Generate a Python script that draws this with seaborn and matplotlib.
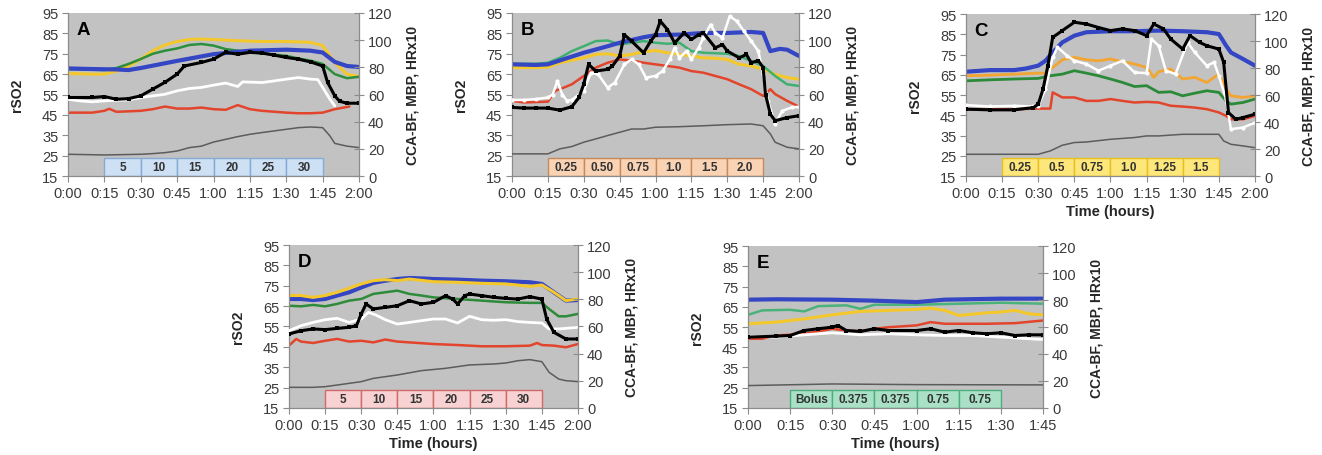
import pandas as pd
import seaborn as sns
import matplotlib.pyplot as plt

# values as (minute, value) pairs
# left axis (rSO2): blue, green, yellow/orange, red
# right axis (CCA-BF, MBP, HRx10): black, white, gray

A_blue = [(0, 67.8), (10, 67.5), (20, 67.3), (25, 67), (30, 68), (45, 71.5), (60, 74.8), (75, 76.5),
          (90, 77), (100, 76.5), (105, 75.6), (110, 71), (115, 69), (120, 68.5)]
A_yellow = [(0, 65.3), (10, 65), (15, 65), (20, 66.5), (25, 69), (30, 72.4), (35, 76.5), (40, 79.3),
            (45, 81), (50, 82), (55, 82.2), (60, 82), (70, 81.4), (80, 81), (90, 81), (100, 80.6),
            (105, 79), (110, 70.7), (115, 65), (120, 63.8)]
A_green = [(0, 67.5), (15, 67), (20, 68), (25, 70), (30, 72.4), (35, 75), (40, 76.5), (45, 77.6),
           (50, 79.3), (55, 79.8), (60, 79), (65, 77.3), (70, 76.5), (75, 75.7), (80, 75.2), (90, 74),
           (95, 72.7), (100, 71.6), (105, 70), (110, 65), (115, 63), (120, 63.7)]
A_red = [(0, 46.1), (10, 46.1), (15, 47), (17, 48), (20, 46.5), (30, 47), (35, 47.8), (40, 49.1),
         (45, 48.1), (50, 48.1), (55, 48.6), (60, 47.8), (65, 47.5), (70, 49.8), (75, 47.8), (80, 47),
         (90, 46.1), (95, 45.8), (100, 45.8), (105, 46.1), (110, 47.8), (116, 49.1)]
A_black = [(0, 57.8), (10, 57.8), (15, 58.5), (20, 56.5), (25, 57), (30, 59), (35, 64), (40, 69),
           (45, 75), (48, 81), (55, 83.6), (60, 86), (65, 91), (70, 89.7), (75, 91), (80, 90.5),
           (85, 89), (90, 87.3), (95, 86), (100, 84), (105, 81), (107, 69), (110, 59), (112, 55),
           (115, 53.6), (120, 53.6)]
A_white = [(0, 56.5), (5, 55.3), (10, 54.6), (15, 55.3), (20, 55.8), (25, 56), (30, 57.8), (35, 59),
           (40, 60.2), (45, 62.7), (50, 64.4), (55, 65.2), (60, 66.9), (65, 68.4), (70, 65.9),
           (72, 69.3), (80, 68.8), (85, 70), (90, 71.3), (95, 72.5), (100, 71.3), (103, 71),
           (105, 65.2), (108, 56.5), (110, 51.6)]
A_gray = [(0, 16), (15, 15.5), (30, 16), (35, 16.5), (40, 17.2), (45, 18.4), (50, 20.9), (55, 22),
          (60, 25), (65, 27), (70, 29), (75, 30.7), (80, 32), (85, 33.2), (90, 34.4), (95, 35.6),
          (100, 36.1), (105, 35.6), (108, 29.5), (110, 24), (115, 22), (120, 20.9)]
A_doses = ['5', '10', '15', '20', '25', '30']

B_blue = [(0, 69.8), (10, 69.5), (15, 69.8), (20, 71.7), (30, 75.5), (40, 78.7), (45, 80.4), (55, 83.1),
          (60, 84.1), (70, 84.4), (80, 85.2), (90, 85.2), (100, 85.7), (105, 85.2), (108, 76.3),
          (112, 77.4), (115, 77), (120, 73.9)]
B_green = [(0, 70.1), (10, 70.1), (15, 70.6), (20, 73), (25, 76.3), (30, 78.7), (35, 81.2), (40, 81.5),
           (45, 79.6), (50, 80.4), (55, 81.2), (60, 80.4), (65, 79.9), (70, 80.4), (75, 76.3),
           (80, 75.5), (90, 75), (95, 73.9), (100, 71.4), (105, 69), (110, 64.1), (115, 60), (120, 59.2)]
B_yellow = [(0, 68.2), (10, 68.2), (15, 68.4), (20, 70.6), (30, 73), (35, 74.7), (40, 75), (45, 73.9),
            (50, 74.7), (55, 76), (60, 76.6), (65, 75.5), (70, 74.7), (75, 73.9), (80, 73), (85, 72.8),
            (90, 72.2), (95, 69.8), (100, 69), (105, 67.4), (110, 64.9), (115, 63.3), (120, 62.5)]
B_red = [(0, 51.9), (5, 51.1), (15, 51.5), (18, 56.8), (20, 57.6), (25, 60), (30, 64.1), (35, 68.2),
         (40, 70.6), (45, 72.2), (50, 71.7), (55, 70.6), (60, 69.8), (65, 69), (70, 68.2), (75, 66.5),
         (80, 65.7), (85, 64.1), (90, 62.5), (95, 60), (100, 57.6), (105, 54.3), (108, 57.6),
         (110, 55.2), (115, 51.9), (120, 49)]
B_black = [(0, 50.5), (5, 50), (10, 50), (15, 50), (20, 48.5), (25, 51), (28, 57.8), (30, 67.6),
           (32, 82.2), (35, 77.3), (40, 78.5), (42, 81), (45, 88.3), (47, 104), (50, 99.3), (55, 90.7),
           (58, 99.3), (60, 104), (62, 114), (65, 107.8), (68, 98), (72, 105.4), (75, 100.5), (78, 104),
           (80, 105.4), (85, 94.4), (88, 96.8), (90, 92), (95, 87), (98, 89.5), (100, 83.4), (103, 85),
           (105, 79.8), (106, 60), (108, 45.6), (110, 40.7), (115, 43), (120, 44.4)]
B_white = [(0, 56), (5, 56), (10, 56.6), (15, 57.8), (17, 60), (19, 70), (21, 60), (23, 55.4),
           (25, 56), (30, 62.7), (33, 76), (36, 74.9), (40, 65), (43, 68.8), (47, 82.2), (50, 85.9),
           (53, 82.2), (56, 72.4), (60, 73.7), (63, 77.3), (66, 85.9), (68, 94.4), (70, 87), (73, 92),
           (75, 85.9), (78, 94.4), (80, 101.7), (83, 111.5), (85, 105.4), (88, 101.7), (91, 117.6),
           (94, 114), (97, 106.6), (100, 99.3), (103, 92), (105, 74.9), (107, 55.4), (110, 38.3),
           (113, 48), (117, 50.5), (120, 51)]
B_gray = [(0, 16.3), (15, 16.3), (20, 20), (25, 21.7), (30, 24.9), (35, 27.3), (40, 29.8), (45, 32.2),
          (50, 34.6), (55, 34.6), (60, 35.9), (70, 36.3), (80, 37), (90, 37.8), (100, 38.3), (105, 37),
          (108, 31), (110, 24.9), (115, 21.2), (120, 20)]
B_doses = ['0.25', '0.50', '0.75', '1.0', '1.5', '2.0']

C_blue = [(0, 66.5), (10, 67.3), (20, 67.3), (25, 68.1), (30, 69.5), (33, 71.9), (36, 76), (40, 81),
          (45, 84.3), (50, 86), (60, 86.5), (70, 86.5), (80, 86.8), (90, 86.5), (100, 86), (105, 85.1),
          (108, 79.4), (110, 76), (115, 72.8), (120, 69.5)]
C_orange = [(0, 64.5), (10, 64.8), (20, 65.3), (30, 65.8), (33, 65.8), (36, 68.6), (40, 72.4),
            (45, 73.6), (50, 72.4), (55, 71.9), (60, 72.8), (65, 71.4), (70, 70.3), (75, 68.6),
            (78, 63.7), (80, 66.5), (85, 67.8), (90, 62.9), (95, 63.7), (100, 61.2), (105, 65.3),
            (108, 57.9), (110, 54.6), (115, 53.8), (120, 54.6)]
C_green = [(0, 62), (10, 62.5), (20, 62.9), (30, 63.2), (35, 64.5), (40, 65.3), (45, 67), (50, 65.8),
           (55, 64.5), (60, 62.9), (65, 61.2), (70, 59.2), (75, 59.6), (80, 56.3), (85, 56.6),
           (90, 54.6), (95, 55.9), (100, 57.1), (105, 56.3), (108, 52.1), (110, 50.5), (115, 51.3),
           (120, 53)]
C_red = [(0, 48), (10, 48), (20, 48), (30, 48.3), (35, 48.3), (36, 56.3), (40, 53.8), (45, 53.8),
         (50, 52.1), (55, 52.1), (60, 53), (65, 52.1), (70, 51.3), (75, 51.6), (80, 51.3), (85, 49.7),
         (90, 49.3), (95, 48.8), (100, 48), (105, 46.4), (108, 44.7), (110, 43), (115, 43), (120, 44.7)]
C_black = [(0, 49.5), (10, 49), (20, 49), (28, 50.7), (30, 53.2), (32, 64.4), (34, 81.7), (36, 102.7),
           (40, 107.7), (45, 113.9), (50, 112.6), (55, 110), (60, 107.7), (65, 109), (70, 107.7),
           (75, 104), (78, 112.6), (82, 109), (85, 101.5), (90, 94), (93, 104), (97, 99), (100, 96.5),
           (105, 94), (107, 84.2), (109, 47), (112, 42), (115, 43.3), (120, 45.8)]
C_white = [(0, 52.5), (10, 51.5), (20, 52), (28, 51.5), (30, 52), (33, 64.4), (36, 87.9), (38, 95.3),
           (42, 89.1), (45, 85.4), (50, 82.9), (55, 78), (60, 81.7), (65, 85.4), (70, 76.7), (75, 76.2),
           (77, 101.5), (80, 96.5), (83, 78), (87, 75.5), (92, 99), (95, 91.6), (100, 81.7), (103, 84.2),
           (105, 74.3), (108, 56.9), (110, 34.7), (115, 35.9), (120, 39.6)]
C_gray = [(0, 16.1), (30, 16.1), (35, 18.6), (40, 22.8), (45, 24.8), (50, 25.2), (60, 27.2), (70, 28.5),
          (75, 29.7), (80, 29.7), (90, 30.9), (100, 30.9), (105, 30.9), (107, 26), (110, 23.5),
          (115, 22.3), (120, 21)]
C_doses = ['0.25', '0.5', '0.75', '1.0', '1.25', '1.5']

D_blue = [(0, 68.5), (5, 68.5), (10, 68), (15, 68.5), (20, 70.2), (25, 71.8), (30, 74.2), (35, 76.4),
          (40, 77.5), (45, 78.3), (50, 78.8), (55, 78.6), (60, 78.3), (70, 78), (80, 77.5), (90, 77.2),
          (100, 76.7), (105, 75.9), (110, 71.8), (115, 67.7), (120, 68)]
D_yellow = [(0, 70.2), (5, 70.2), (10, 69.3), (15, 70.2), (20, 71.8), (25, 73.8), (30, 75.9), (35, 77.5),
            (40, 78), (45, 77.5), (50, 78.3), (60, 77), (70, 76.7), (80, 76.2), (90, 75.9), (100, 74.7),
            (105, 75.4), (110, 71.8), (115, 67.7), (120, 68.5)]
D_green = [(0, 65.2), (5, 64.9), (10, 65.6), (15, 64.9), (20, 66.1), (25, 67.7), (30, 68.5), (35, 71),
           (40, 71.8), (45, 72.6), (50, 71), (55, 70.2), (60, 69.3), (70, 68.5), (80, 67.7), (90, 66.9),
           (100, 66.6), (105, 66.6), (108, 63.6), (112, 60), (115, 60), (120, 61.2)]
D_red = [(0, 45.6), (3, 48.9), (5, 47.6), (10, 46.9), (15, 48), (20, 48.9), (25, 47.6), (30, 48),
         (35, 47.2), (40, 48.6), (45, 47.6), (50, 47.2), (60, 46.4), (70, 45.9), (80, 45.3), (90, 45.3),
         (100, 45.6), (103, 46.9), (105, 45.9), (110, 45.6), (115, 44.8), (120, 46.4)]
D_black = [(0, 54.5), (5, 56.9), (10, 58.2), (15, 57.7), (20, 58.6), (25, 59.4), (28, 60.6), (30, 69.2),
           (32, 76.6), (35, 72.9), (40, 74.1), (45, 75.3), (50, 79), (55, 76.6), (60, 77.8), (65, 82.7),
           (68, 80.2), (70, 76.6), (73, 82.7), (75, 83.9), (80, 82.7), (85, 81.5), (90, 80.7),
           (95, 80.2), (100, 82), (105, 80.2), (107, 65.5), (110, 55.7), (115, 50.8), (120, 50.8)]
D_white = [(0, 56.9), (5, 60.6), (10, 63), (15, 65), (20, 66), (25, 63), (30, 65.5), (33, 70.4),
           (36, 68.5), (40, 65), (45, 61.8), (50, 63), (55, 64.3), (60, 65.5), (65, 65.5), (70, 62.6),
           (75, 67.5), (80, 65), (85, 64.6), (90, 65), (95, 63.6), (100, 63), (105, 62.6), (108, 58.2),
           (112, 58.2), (120, 59.4)]
D_gray = [(0, 15.2), (10, 15.2), (15, 15.7), (20, 16.9), (30, 19.4), (35, 21.8), (45, 24.3), (55, 27.5),
          (65, 29.2), (75, 31.7), (85, 32.4), (90, 33.1), (95, 34.8), (100, 35.6), (105, 34.1),
          (108, 26.3), (112, 21.3), (115, 20.1), (120, 19.4)]
D_doses = ['5', '10', '15', '20', '25', '30']

E_blue = [(0, 68.5), (10, 68.7), (30, 68.5), (45, 68), (60, 67.3), (70, 68.5), (90, 69), (105, 69)]
E_green = [(0, 61), (5, 63.2), (15, 63.5), (20, 62.7), (25, 65.3), (35, 65.7), (40, 64), (45, 66),
           (60, 66), (75, 66.5), (90, 67), (105, 66.5)]
E_yellow = [(0, 56.6), (10, 57.4), (20, 59), (30, 61), (40, 62.7), (50, 63.2), (60, 63.7), (65, 64.3),
            (70, 63.2), (75, 60.7), (85, 62), (90, 62.4), (95, 63.2), (100, 61.5), (105, 61)]
E_red = [(0, 49.2), (5, 49.2), (10, 50.8), (20, 51.6), (30, 54.1), (35, 53.3), (40, 52.8), (45, 54.1),
         (50, 54.9), (60, 55.8), (65, 57.4), (70, 56.6), (75, 56.6), (85, 56.6), (95, 56.9), (105, 58.2)]
E_black = [(0, 52.5), (10, 53.2), (15, 53.7), (20, 57.4), (25, 58.7), (30, 59.9), (32, 61.1),
           (35, 57.4), (40, 56.7), (45, 58.7), (50, 57.4), (60, 57.4), (65, 58.7), (70, 56.2),
           (75, 57.4), (80, 55.7), (85, 55), (90, 55.7), (95, 53.7), (100, 54.2), (105, 54.2)]
E_white = [(0, 53.2), (10, 52.5), (20, 54.2), (30, 55.7), (40, 54.2), (50, 55), (60, 54.2), (70, 53.7),
           (80, 53.7), (90, 52.5), (105, 50.7)]
E_gray = [(0, 16.6), (30, 17.8), (60, 17.3), (105, 17.1)]
E_doses = ['Bolus', '0.375', '0.375', '0.75', '0.75']

BLUE = '#3446c4'
YELLOW = '#f4c72b'
RED = '#e2452c'
GRAY = '#5c5c5c'

panels = [
    dict(letter='A', rect=[0.0514, 0.6118, 0.2202, 0.3575], xmax=120, xlabel=False,
         left=[(A_red, RED, 1.8), (A_yellow, YELLOW, 2.2), (A_green, '#2c8f3c', 1.8), (A_blue, BLUE, 3.0)],
         right=[A_gray, A_white, A_black], white_mk=False,
         doses=A_doses, box=('#cde0f4', '#86aad4')),
    dict(letter='B', rect=[0.3873, 0.6118, 0.2171, 0.3575], xmax=120, xlabel=False,
         left=[(B_red, RED, 1.8), (B_yellow, YELLOW, 2.2), (B_green, '#3fb070', 1.8), (B_blue, BLUE, 3.0)],
         right=[B_gray, B_white, B_black], white_mk=True,
         doses=B_doses, box=('#fad3b4', '#c58a5c')),
    dict(letter='C', rect=[0.7307, 0.6118, 0.2186, 0.3553], xmax=120, xlabel=True,
         left=[(C_red, RED, 1.8), (C_orange, '#f2a531', 2.0), (C_green, '#2a8a38', 2.0), (C_blue, BLUE, 3.0)],
         right=[C_gray, C_white, C_black], white_mk=True,
         doses=C_doses, box=('#fde67a', '#e5c020')),
    dict(letter='D', rect=[0.2186, 0.1031, 0.2186, 0.3574], xmax=120, xlabel=True,
         left=[(D_red, RED, 1.8), (D_blue, BLUE, 3.0), (D_yellow, YELLOW, 2.2), (D_green, '#2e8b3a', 1.8)],
         right=[D_gray, D_white, D_black], white_mk=False,
         doses=D_doses, box=('#f8d2d2', '#d06a6a')),
    dict(letter='E', rect=[0.5658, 0.1031, 0.2232, 0.3552], xmax=105, xlabel=True,
         left=[(E_red, RED, 1.8), (E_yellow, YELLOW, 2.2), (E_green, '#4bb27b', 1.8), (E_blue, BLUE, 3.0)],
         right=[E_gray, E_white, E_black], white_mk=False,
         doses=E_doses, box=('#a9e0c6', '#4fae80')),
]

sns.set_style('ticks')
plt.rcParams['font.family'] = ['Liberation Sans', 'DejaVu Sans']

fig = plt.figure(figsize=(13.22, 4.56), dpi=100)
fig.patch.set_facecolor('white')

TICK_COLOR = '#3a3a3a'
SPINE_COLOR = '#8c8c8c'


def draw(ax, pts, color, lw, marker=None, ms=0, mfc=None):
    df = pd.DataFrame(pts, columns=['t', 'v'])
    sns.lineplot(data=df, x='t', y='v', ax=ax, color=color, lw=lw, estimator=None, sort=False,
                 marker=marker, markersize=ms, markeredgewidth=0,
                 markerfacecolor=mfc if mfc else color)


def fmt(m):
    return f"{m // 60}:{m % 60:02d}"


for p in panels:
    ax = fig.add_axes(p['rect'])
    ax.set_facecolor('#c2c2c2')
    ax2 = ax.twinx()
    ax2.patch.set_visible(False)

    # dose boxes, 15 minutes each starting at 0:15
    starts = [15 + 15 * i for i in range(len(p['doses']))]
    ax.bar(starts, 9, bottom=15, width=15, align='edge', color=p['box'][0],
           edgecolor=p['box'][1], linewidth=1.0, zorder=1)
    for s, lab in zip(starts, p['doses']):
        ax.text(s + 7.5, 19.5, lab, ha='center', va='center', fontsize=8.5, fontweight='bold',
                color='#333333', zorder=3)

    for pts, col, lw in p['left']:
        draw(ax, pts, col, lw)

    gray, white, black = p['right']
    draw(ax2, gray, GRAY, 1.1)
    if p['white_mk']:
        draw(ax2, white, 'white', 1.8, marker='o', ms=3)
    else:
        draw(ax2, white, 'white', 2.0)
    draw(ax2, black, 'black', 2.2, marker='s', ms=3.2)

    xmax = p['xmax']
    ticks = list(range(0, xmax + 1, 15))
    ax.set_xlim(0, xmax)
    ax.set_ylim(15, 95)
    ax2.set_ylim(0, 120)
    ax.set_xticks(ticks)
    ax.set_xticklabels([fmt(m) for m in ticks])
    ax.set_yticks(range(15, 96, 10))
    ax2.set_yticks(range(0, 121, 20))

    ax.set_ylabel('rSO2', fontsize=10, fontweight='bold', labelpad=13)
    ax2.set_ylabel('CCA-BF, MBP, HRx10', fontsize=10, fontweight='bold', labelpad=9)
    ax.set_xlabel('Time (hours)' if p['xlabel'] else '', fontsize=10.5, fontweight='bold', labelpad=3)

    for a in (ax, ax2):
        a.tick_params(labelsize=10.5, colors=TICK_COLOR, length=4, width=0.8, pad=3)
        a.tick_params(axis='both', color=SPINE_COLOR)
        for side in a.spines:
            a.spines[side].set_color(SPINE_COLOR)
            a.spines[side].set_linewidth(0.9)
        a.spines['top'].set_visible(False)
    ax2.tick_params(axis='y', direction='inout', length=7)
    ax.spines['right'].set_visible(False)
    ax2.spines['left'].set_visible(False)
    ax2.spines['bottom'].set_visible(False)

    ax.text(0.03, 0.9, p['letter'], transform=ax.transAxes, fontsize=13.5, fontweight='bold',
            color='black', va='center', zorder=5)

fig.savefig('out.png', dpi=100, facecolor='white')
